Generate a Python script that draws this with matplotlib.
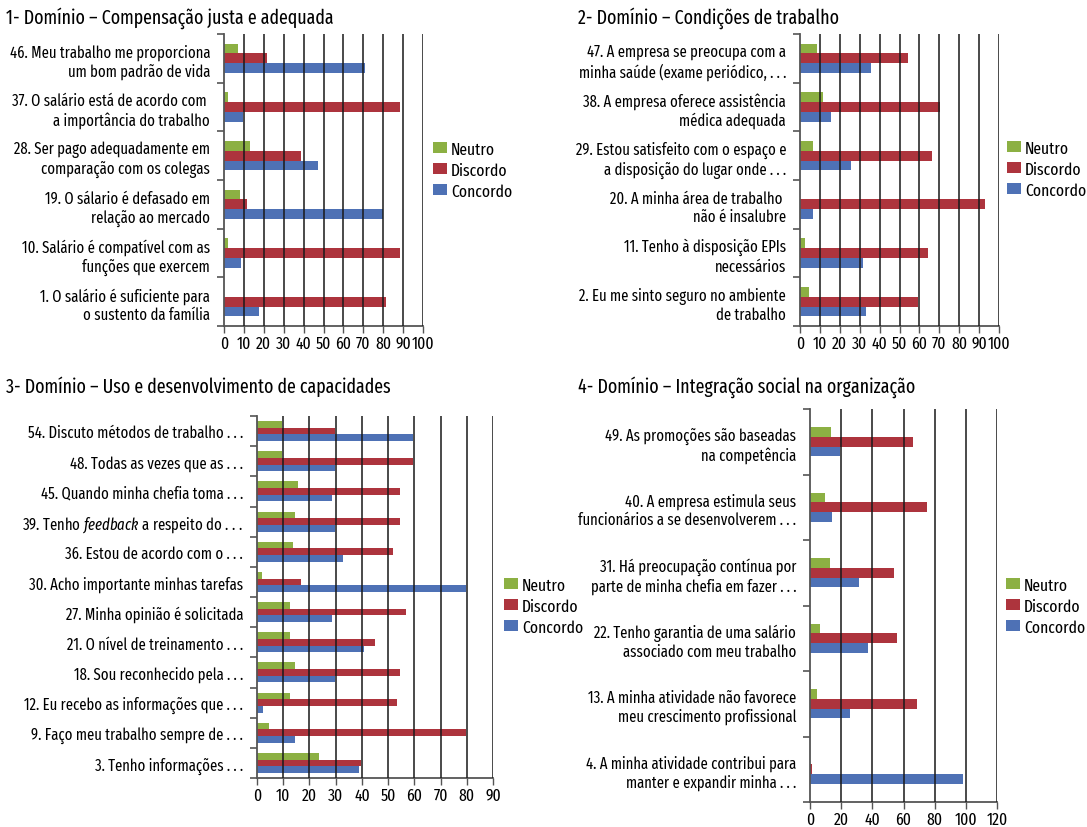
import matplotlib
matplotlib.use("Agg")
import matplotlib.pyplot as plt
import matplotlib.font_manager as fm
import numpy as np

# ---------------- fonts ----------------
names = {f.name for f in fm.fontManager.ttflist}
FONT = next((n for n in ['Fira Sans Extra Condensed', 'PT Sans Narrow', 'Fira Sans Condensed',
                         'Liberation Sans Narrow'] if n in names), 'DejaVu Sans')
plt.rcParams['font.family'] = [FONT, 'DejaVu Sans']
plt.rcParams['mathtext.fontset'] = 'custom'
plt.rcParams['mathtext.it'] = FONT + ':italic'
plt.rcParams['mathtext.rm'] = FONT

ELL = "\u2009.\u2009.\u2009."

# ---------------- data ----------------
series = ['Neutro', 'Discordo', 'Concordo']
colors = {'Neutro': '#8CB043', 'Discordo': '#AD343D', 'Concordo': '#4E71B5'}

# Panel 1 (bottom to top)
p1_labels = ["1. O salário é suficiente para\no sustento da família",
             "10. Salário é compatível com as\nfunções que exercem",
             "19. O sálario é defasado em\nrelação ao mercado",
             "28. Ser pago adequadamente em\ncomparação com os colegas",
             "37. O salário está de acordo com \na importância do trabalho",
             "46. Meu trabalho me proporciona\num bom padrão de vida"]
p1_neutro = [0, 2.2, 8.2, 13.2, 2.2, 7.2]
p1_discordo = [81.6, 88.6, 11.7, 38.9, 88.6, 21.8]
p1_concordo = [17.8, 8.7, 79.7, 47.4, 9.4, 71.0]

# Panel 2
p2_labels = ["2. Eu me sinto seguro no ambiente\nde trabalho",
             "11. Tenho à disposição EPIs\nnecessários",
             "20. A minha área de trabalho \nnão é insalubre",
             "29. Estou satisfeito com o espaço e\na disposição do lugar onde" + ELL,
             "38. A empresa oferece assistência\nmédica adequada",
             "47. A empresa se preocupa com a\nminha saúde (exame periódico," + ELL]
p2_neutro = [4.4, 2.5, 0, 6.4, 11.4, 8.5]
p2_discordo = [59.1, 64.2, 92.8, 66.2, 70.2, 54.1]
p2_concordo = [33.0, 31.5, 6.4, 25.5, 15.4, 35.7]

# Panel 3
p3_labels = ["3. Tenho informações" + ELL,
             "9. Faço meu trabalho sempre de" + ELL,
             "12. Eu recebo as informações que" + ELL,
             "18. Sou reconhecido pela" + ELL,
             "21. O nível de treinamento" + ELL,
             "27. Minha opinião é solicitada",
             "30. Acho importante minhas tarefas",
             "36. Estou de acordo com o" + ELL,
             "39. Tenho $\\mathit{feedback}$ a respeito do . . .",
             "45. Quando minha chefia toma" + ELL,
             "48. Todas as vezes que as" + ELL,
             "54. Discuto métodos de trabalho" + ELL]
p3_neutro = [23.8, 4.7, 12.7, 14.6, 12.7, 12.7, 2.0, 13.9, 14.6, 15.8, 9.7, 9.7]
p3_discordo = [39.8, 79.8, 53.5, 54.6, 45.1, 56.9, 16.9, 52.0, 54.6, 54.6, 59.6, 29.7]
p3_concordo = [39.0, 14.6, 2.4, 29.7, 40.9, 28.7, 79.8, 32.9, 29.7, 28.7, 29.7, 59.6]

# Panel 4
p4_labels = ["4. A minha atividade contribui para\nmanter e expandir minha" + ELL,
             "13. A minha atividade não favorece\nmeu crescimento profissional",
             "22. Tenho garantia de uma salário\nassociado com meu trabalho",
             "31. Há preocupação contínua por\nparte de minha chefia em fazer" + ELL,
             "40. A empresa estimula seus\nfuncionários a se desenvolverem" + ELL,
             "49. As promoções são baseadas\nna competência"]
p4_neutro = [0, 4.7, 6.6, 13.1, 9.9, 13.7]
p4_discordo = [1.5, 68.4, 56.1, 54.2, 75.4, 66.4]
p4_concordo = [97.9, 25.9, 36.9, 31.7, 14.4, 19.5]

titles = ["1- Domínio \u2013 Compensação justa e adequada",
          "2- Domínio \u2013 Condições de trabalho",
          "3- Domínio \u2013 Uso e desenvolvimento de capacidades",
          "4- Domínio \u2013 Integração social na organização"]

W, H = 1087, 828
fig = plt.figure(figsize=(W / 100, H / 100), dpi=100)
FS = 11.5

def fx(px):
    return px / W

def fy(py):
    return 1 - py / H

def panel(box, labels, neu, dis, con, xmax, xstep, bh, title, title_xy, leg_xy):
    l, r, t, b = box
    ax = fig.add_axes([fx(l), fy(b), fx(r - l), (b - t) / H])
    y = np.arange(len(labels))
    hs = []
    for vals, off, name in ((con, -bh, 'Concordo'), (dis, 0, 'Discordo'), (neu, bh, 'Neutro')):
        hs.append(ax.barh(y + off, vals, height=bh, color=colors[name], label=name, zorder=2))
    ax.set_xlim(0, xmax)
    ax.set_ylim(-0.5, len(labels) - 0.5)
    ticks = np.arange(0, xmax + 0.1, xstep)
    ax.set_xticks(ticks)
    ax.set_xticklabels([f"{int(v)}" for v in ticks], fontsize=12.2)
    for v in ticks[1:]:
        ax.axvline(v, color='#1a1a1a', lw=1.3, alpha=0.85, zorder=3)
    ax.set_yticks(y)
    ax.set_yticklabels(labels, fontsize=FS, linespacing=1.2)
    ax.tick_params(axis='y', length=0, pad=10)
    ax.set_yticks(np.arange(-0.5, len(labels)), minor=True)
    ax.tick_params(axis='y', which='minor', length=5, width=1.2, color='#555555', direction='out')
    ax.tick_params(axis='x', length=5, width=1.0, color='#555555', pad=2)
    for s in ('top', 'right'):
        ax.spines[s].set_visible(False)
    for s in ('left', 'bottom'):
        ax.spines[s].set_color('#555555')
        ax.spines[s].set_linewidth(1.3)
    fig.text(fx(title_xy[0]), fy(title_xy[1]), title, fontsize=14.0, fontweight='normal',
             va='center', ha='left')
    h_ord = [hs[2], hs[1], hs[0]]
    fig.legend(h_ord, ['Neutro', 'Discordo', 'Concordo'], loc='center left',
               bbox_to_anchor=(fx(leg_xy[0]), fy(leg_xy[1])), frameon=False, fontsize=12.2,
               handlelength=0.85, handleheight=0.65, handletextpad=0.22, labelspacing=0.3,
               borderpad=0, borderaxespad=0)
    return ax

panel((224, 423, 35, 327), p1_labels, p1_neutro, p1_discordo, p1_concordo, 100, 10, 0.2,
      titles[0], (6, 18), (433, 171))
panel((800, 999, 35, 327), p2_labels, p2_neutro, p2_discordo, p2_concordo, 100, 10, 0.2,
      titles[1], (578, 18), (1007, 170))
panel((257, 493, 417, 779), p3_labels, p3_neutro, p3_discordo, p3_concordo, 90, 10, 0.22,
      titles[2], (6, 387), (504, 607))
panel((810, 997, 410, 803), p4_labels, p4_neutro, p4_discordo, p4_concordo, 120, 20, 0.15,
      titles[3], (578, 387), (1006, 607))

fig.savefig('out.png', dpi=100)
